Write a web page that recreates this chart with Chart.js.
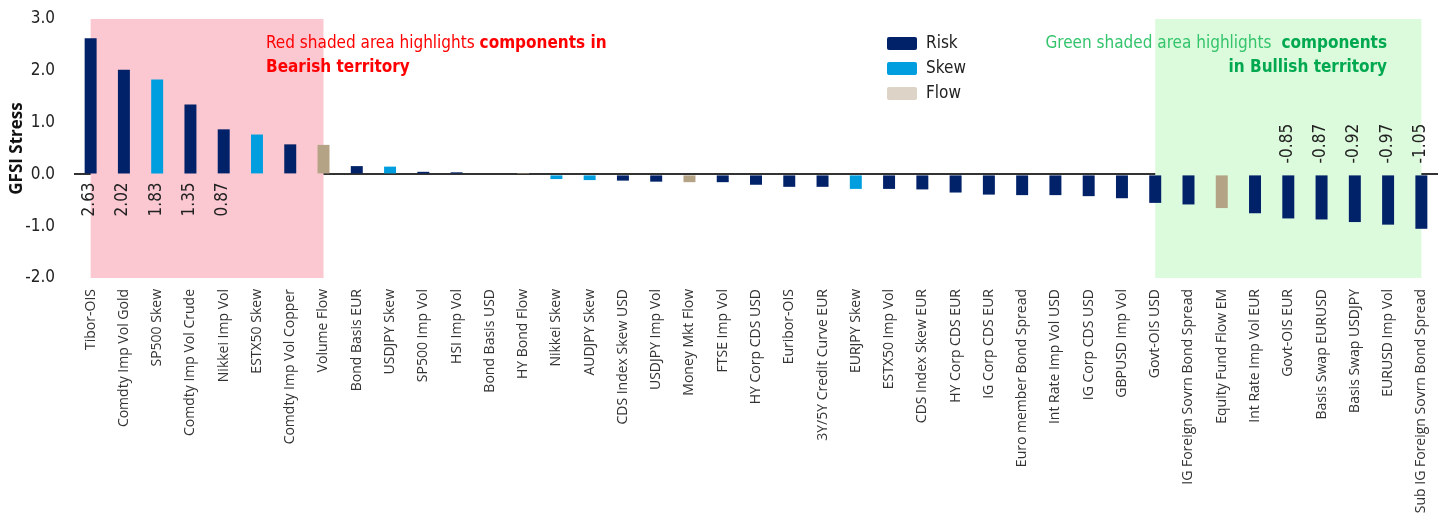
<!DOCTYPE html>
<html>
<head>
<meta charset="utf-8">
<script src="https://cdn.jsdelivr.net/npm/chart.js@4.4.1/dist/chart.umd.min.js"></script>
<style>
  html, body { margin: 0; padding: 0; background: #fff; }
  #wrap { width: 1442px; height: 519px; position: relative; }
</style>
</head>
<body>
<div id="wrap"><canvas id="gfsi" width="1442" height="519"></canvas></div>
<script>
// GFSI components, sorted by stress
const categories = [
  'Tibor-OIS', 'Comdty Imp Vol Gold', 'SP500 Skew', 'Comdty Imp Vol Crude', 'Nikkei Imp Vol',
  'ESTX50 Skew', 'Comdty Imp Vol Copper', 'Volume Flow', 'Bond Basis EUR', 'USDJPY Skew',
  'SP500 Imp Vol', 'HSI Imp Vol', 'Bond Basis USD', 'HY Bond Flow', 'Nikkei Skew',
  'AUDJPY Skew', 'CDS Index Skew USD', 'USDJPY Imp Vol', 'Money Mkt Flow', 'FTSE Imp Vol',
  'HY Corp CDS USD', 'Euribor-OIS', '3Y/5Y Credit Curve EUR', 'EURJPY Skew', 'ESTX50 Imp Vol',
  'CDS Index Skew EUR', 'HY Corp CDS EUR', 'IG Corp CDS EUR', 'Euro member Bond Spread', 'Int Rate Imp Vol USD',
  'IG Corp CDS USD', 'GBPUSD Imp Vol', 'Govt-OIS USD', 'IG Foreign Sovrn Bond Spread', 'Equity Fund Flow EM',
  'Int Rate Imp Vol EUR', 'Govt-OIS EUR', 'Basis Swap EURUSD', 'Basis Swap USDJPY', 'EURUSD Imp Vol',
  'Sub IG Foreign Sovrn Bond Spread'
];
const stress = [
  2.63, 2.02, 1.83, 1.35, 0.87,
  0.77, 0.58, 0.57, 0.16, 0.15,
  0.05, 0.04, 0.02, 0.01, -0.09,
  -0.11, -0.12, -0.14, -0.15, -0.15,
  -0.20, -0.24, -0.24, -0.28, -0.28,
  -0.29, -0.35, -0.39, -0.40, -0.40,
  -0.42, -0.46, -0.55, -0.58, -0.65,
  -0.75, -0.85, -0.87, -0.92, -0.97,
  -1.05
];
const groups = [
  'Risk', 'Risk', 'Skew', 'Risk', 'Risk',
  'Skew', 'Risk', 'Flow', 'Risk', 'Skew',
  'Risk', 'Risk', 'Risk', 'Flow', 'Skew',
  'Skew', 'Risk', 'Risk', 'Flow', 'Risk',
  'Risk', 'Risk', 'Risk', 'Skew', 'Risk',
  'Risk', 'Risk', 'Risk', 'Risk', 'Risk',
  'Risk', 'Risk', 'Risk', 'Risk', 'Flow',
  'Risk', 'Risk', 'Risk', 'Risk', 'Risk',
  'Risk'
];
const yTicks = [3, 2, 1, 0, -1, -2];
// which bars get a value printed next to them
const labelled = [0, 1, 2, 3, 4, 36, 37, 38, 39, 40];
// shaded zones, in category index
const bearishZone = [0, 7];
const bullishZone = [32, 40];

const groupColors = { Risk: '#012169', Skew: '#009edf', Flow: '#b5a386' };
const legendColors = { Risk: '#012169', Skew: '#009edf', Flow: '#ddd4c7' };

const narrow = '"Liberation Sans Narrow", "DejaVu Sans Condensed", sans-serif';

const zonesPlugin = {
  id: 'zones',
  beforeDatasetsDraw(chart) {
    const { ctx, scales: { x, y } } = chart;
    const top = y.getPixelForValue(3), bottom = y.getPixelForValue(-2);
    ctx.save();
    ctx.fillStyle = '#fbc8d2';
    let a = x.getPixelForValue(bearishZone[0]), b = x.getPixelForValue(bearishZone[1]);
    ctx.fillRect(a, top, b - a, bottom - top);
    ctx.fillStyle = '#dcfadc';
    a = x.getPixelForValue(bullishZone[0]); b = x.getPixelForValue(bullishZone[1]);
    ctx.fillRect(a, top, b - a, bottom - top);
    ctx.restore();
  }
};

const notesPlugin = {
  id: 'notes',
  afterDatasetsDraw(chart) {
    const { ctx, scales: { x, y } } = chart;
    const zero = y.getPixelForValue(0);
    ctx.save();

    // value labels, rotated
    ctx.fillStyle = '#222';
    ctx.font = '17px ' + narrow;
    ctx.textBaseline = 'middle';
    labelled.forEach(i => {
      const v = stress[i];
      const px = x.getPixelForValue(i) - 1;
      ctx.save();
      if (v >= 0) {
        ctx.translate(px, zero + 8);
        ctx.rotate(-Math.PI / 2);
        ctx.textAlign = 'right';
      } else {
        ctx.translate(px, zero - 11);
        ctx.rotate(-Math.PI / 2);
        ctx.textAlign = 'left';
      }
      ctx.fillText(v.toFixed(2), 0, 0);
      ctx.restore();
    });

    // zone notes
    ctx.textAlign = 'left';
    ctx.textBaseline = 'alphabetic';
    let tx = 266;
    ctx.fillStyle = '#ff0000';
    ctx.font = '17px ' + narrow;
    const part1 = 'Red shaded area highlights ';
    ctx.fillText(part1, tx, 48);
    tx += ctx.measureText(part1).width;
    ctx.font = 'bold 17px ' + narrow;
    ctx.fillText('components in', tx, 48);
    ctx.fillText('Bearish territory', 266, 72);

    const right = 1387;
    ctx.font = 'bold 17px ' + narrow;
    ctx.fillStyle = '#00a84f';
    ctx.textAlign = 'right';
    ctx.fillText('components', right, 48);
    ctx.fillText('in Bullish territory', right, 72);
    const wBold = ctx.measureText('components').width;
    ctx.font = '17px ' + narrow;
    ctx.fillStyle = '#33c46c';
    ctx.fillText('Green shaded area highlights', right - wBold - 10, 48);

    // legend
    ctx.textAlign = 'left';
    ctx.textBaseline = 'middle';
    ctx.font = '17px ' + narrow;
    ['Risk', 'Skew', 'Flow'].forEach((g, k) => {
      const cy = 43 + k * 25;
      ctx.fillStyle = legendColors[g];
      ctx.beginPath();
      ctx.roundRect(887, cy - 6, 30, 13, 2);
      ctx.fill();
      ctx.fillStyle = '#222';
      ctx.fillText(g, 926, cy + 1);
    });
    ctx.restore();
  }
};

new Chart(document.getElementById('gfsi'), {
  type: 'bar',
  data: {
    labels: categories,
    datasets: [{
      label: 'GFSI Stress',
      data: stress,
      backgroundColor: groups.map(g => groupColors[g]),
      barPercentage: 0.72,
      categoryPercentage: 0.5
    }]
  },
  options: {
    responsive: false,
    animation: false,
    devicePixelRatio: 1,
    layout: { padding: { top: 19, right: 4, left: 0, bottom: 0 } },
    plugins: {
      legend: { display: false },
      tooltip: { enabled: false }
    },
    scales: {
      x: {
        grid: { display: false, drawTicks: false },
        border: { display: false },
        afterFit(scale) {
          scale.height = 241;
          scale.paddingLeft = 0;
          scale.paddingRight = 0;
        },
        ticks: {
          autoSkip: false,
          maxRotation: 90,
          minRotation: 90,
          padding: 11,
          color: '#333',
          font: { family: '"Open Sans", sans-serif', size: 14 }
        }
      },
      y: {
        min: -2,
        max: 3,
        afterFit(scale) {
          scale.width = 74;
          scale.paddingTop = 0;
          scale.paddingBottom = 0;
        },
        afterBuildTicks(scale) { scale.ticks = yTicks.map(v => ({ value: v })); },
        border: { display: false },
        grid: {
          drawTicks: false,
          lineWidth: 2,
          color: ctx => (ctx.tick && ctx.tick.value === 0 ? '#333' : 'rgba(0,0,0,0)')
        },
        ticks: {
          padding: 19,
          color: '#222',
          font: { family: narrow, size: 17 },
          callback: v => v.toFixed(1)
        },
        title: {
          display: true,
          text: 'GFSI Stress',
          color: '#111',
          padding: { top: 7, bottom: 0 },
          font: { family: '"Open Sans", sans-serif', size: 17, weight: 'bold' }
        }
      }
    }
  },
  plugins: [zonesPlugin, notesPlugin]
});
</script>
</body>
</html>
